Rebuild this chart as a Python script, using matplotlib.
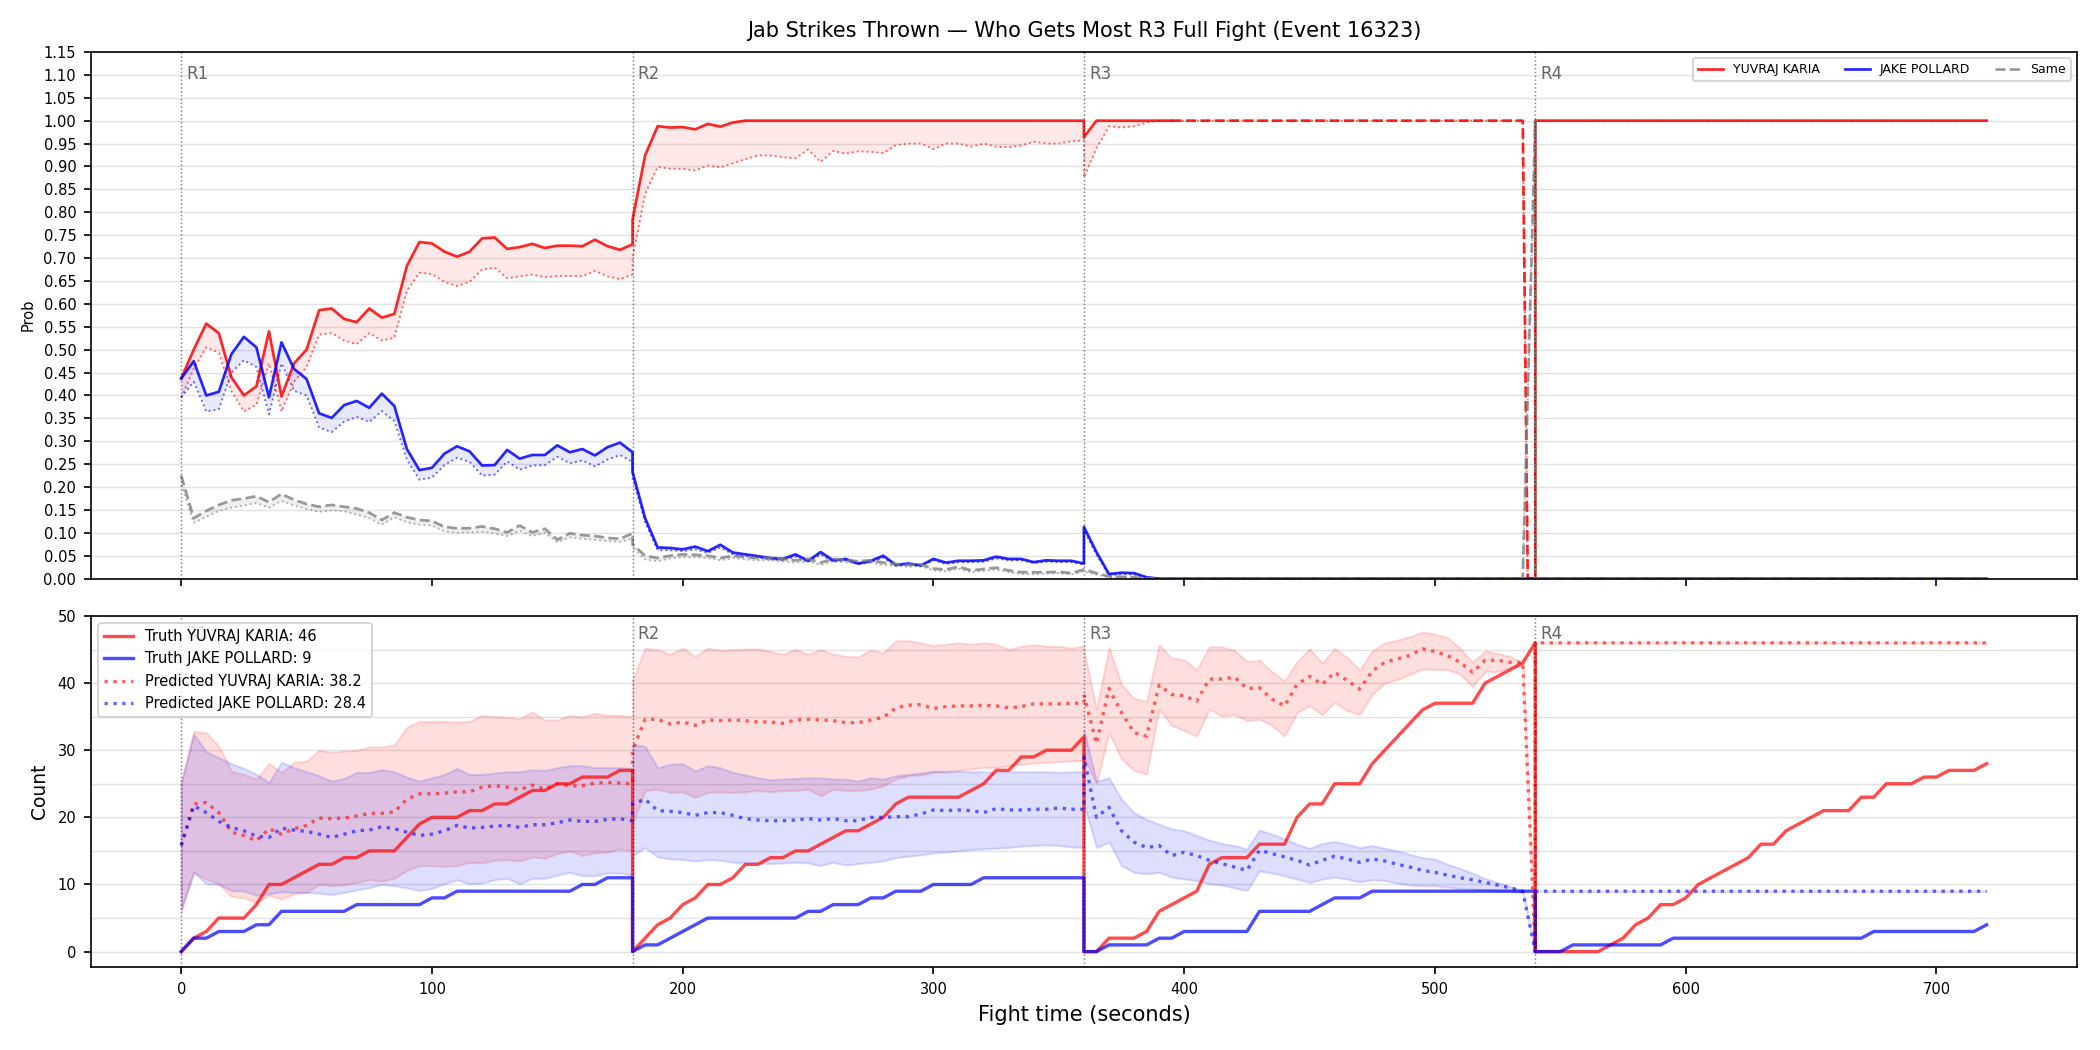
import numpy as np
import matplotlib
matplotlib.use("Agg")
import matplotlib.pyplot as plt
import matplotlib.transforms as mtransforms
from matplotlib.ticker import MultipleLocator

# nomi e testi
red_name = "YUVRAJ KARIA"
blue_name = "JAKE POLLARD"
titolo = "Jab Strikes Thrown — Who Gets Most R3 Full Fight (Event 16323)"
round_starts = [0, 180, 360, 540]
round_labels = ["R1", "R2", "R3", "R4"]

# griglie temporali (secondi) per ogni round
t_r1 = np.arange(0, 181, 5)
t_r2 = np.arange(180, 361, 5)
t_r3_prob = np.concatenate([np.arange(360, 536, 5), [537, 540]])
t_r3_cnt = np.concatenate([np.arange(360, 536, 5), [540]])
t_r4 = np.arange(540, 721, 5)

# ---- pannello alto: probabilita ----
red_p_r1 = [0.437, 0.50, 0.557, 0.536, 0.44, 0.40, 0.42, 0.54, 0.398, 0.47, 0.50, 0.586, 0.59, 0.567, 0.56, 0.59,
            0.57, 0.578, 0.683, 0.735, 0.732, 0.714, 0.703, 0.714, 0.743, 0.745, 0.72, 0.724, 0.731, 0.722, 0.727,
            0.727, 0.726, 0.74, 0.726, 0.718, 0.73]
red_lo_r1 = [0.396, 0.458, 0.505, 0.493, 0.41, 0.365, 0.38, 0.47, 0.365, 0.43, 0.462, 0.533, 0.536, 0.52, 0.512,
             0.536, 0.52, 0.526, 0.629, 0.668, 0.665, 0.648, 0.639, 0.648, 0.675, 0.679, 0.656, 0.66, 0.664, 0.658,
             0.661, 0.661, 0.66, 0.672, 0.66, 0.654, 0.664]
blue_p_r1 = [0.437, 0.475, 0.40, 0.408, 0.49, 0.528, 0.505, 0.396, 0.516, 0.458, 0.436, 0.361, 0.351, 0.379, 0.388,
             0.373, 0.404, 0.377, 0.283, 0.237, 0.242, 0.273, 0.289, 0.278, 0.247, 0.248, 0.281, 0.262, 0.27, 0.27,
             0.291, 0.276, 0.283, 0.269, 0.287, 0.297, 0.276]
blue_lo_r1 = [0.396, 0.43, 0.365, 0.37, 0.45, 0.477, 0.462, 0.359, 0.47, 0.41, 0.40, 0.33, 0.32, 0.343, 0.353,
              0.342, 0.366, 0.344, 0.26, 0.216, 0.221, 0.248, 0.264, 0.255, 0.225, 0.227, 0.256, 0.238, 0.247, 0.248,
              0.266, 0.252, 0.258, 0.245, 0.26, 0.27, 0.255]
same_p_r1 = [0.225, 0.132, 0.148, 0.161, 0.171, 0.175, 0.18, 0.167, 0.185, 0.172, 0.163, 0.157, 0.161, 0.157, 0.153,
             0.144, 0.128, 0.144, 0.134, 0.128, 0.126, 0.113, 0.11, 0.11, 0.114, 0.109, 0.101, 0.116, 0.101, 0.109,
             0.085, 0.099, 0.095, 0.093, 0.089, 0.087, 0.099]
same_lo_r1 = [0.205, 0.122, 0.135, 0.148, 0.155, 0.16, 0.165, 0.155, 0.17, 0.16, 0.152, 0.146, 0.149, 0.147, 0.14,
              0.132, 0.118, 0.134, 0.123, 0.118, 0.116, 0.103, 0.1, 0.101, 0.102, 0.099, 0.093, 0.104, 0.093, 0.1,
              0.08, 0.09, 0.087, 0.085, 0.082, 0.08, 0.088]

red_p_r2 = [0.784, 0.924, 0.988, 0.985, 0.986, 0.981, 0.993, 0.987, 0.996, 1.0, 1.0, 1.0, 1.0, 1.0, 1.0, 1.0, 1.0,
            1.0, 1.0, 1.0, 1.0, 1.0, 1.0, 1.0, 1.0, 1.0, 1.0, 1.0, 1.0, 1.0, 1.0, 1.0, 1.0, 1.0, 1.0, 1.0, 1.0]
red_lo_r2 = [0.70, 0.84, 0.899, 0.895, 0.895, 0.891, 0.902, 0.898, 0.907, 0.916, 0.924, 0.924, 0.92, 0.918, 0.937,
             0.91, 0.934, 0.928, 0.933, 0.932, 0.929, 0.947, 0.95, 0.95, 0.938, 0.95, 0.95, 0.943, 0.95, 0.943,
             0.942, 0.946, 0.954, 0.95, 0.95, 0.955, 0.957]
blue_p_r2 = [0.233, 0.132, 0.068, 0.067, 0.064, 0.07, 0.06, 0.074, 0.057, 0.053, 0.049, 0.045, 0.043, 0.053, 0.039,
             0.058, 0.04, 0.043, 0.033, 0.039, 0.05, 0.03, 0.033, 0.029, 0.043, 0.035, 0.039, 0.039, 0.04, 0.048,
             0.043, 0.043, 0.036, 0.04, 0.039, 0.039, 0.033]
blue_lo_r2 = [0.22, 0.124, 0.062, 0.062, 0.06, 0.064, 0.056, 0.068, 0.053, 0.049, 0.046, 0.042, 0.04, 0.048, 0.036,
              0.053, 0.037, 0.04, 0.031, 0.036, 0.046, 0.028, 0.031, 0.027, 0.04, 0.032, 0.036, 0.036, 0.037, 0.044,
              0.04, 0.04, 0.034, 0.037, 0.036, 0.036, 0.031]
same_p_r2 = [0.075, 0.05, 0.045, 0.05, 0.053, 0.052, 0.05, 0.045, 0.05, 0.047, 0.045, 0.045, 0.043, 0.04, 0.043,
             0.035, 0.043, 0.041, 0.038, 0.04, 0.035, 0.032, 0.03, 0.031, 0.022, 0.02, 0.026, 0.018, 0.021, 0.024,
             0.018, 0.014, 0.014, 0.014, 0.015, 0.012, 0.02]
same_lo_r2 = [0.068, 0.042, 0.038, 0.044, 0.047, 0.047, 0.045, 0.04, 0.045, 0.042, 0.04, 0.04, 0.038, 0.035, 0.038,
              0.03, 0.038, 0.036, 0.033, 0.035, 0.03, 0.028, 0.026, 0.027, 0.018, 0.016, 0.022, 0.014, 0.017, 0.02,
              0.014, 0.01, 0.01, 0.011, 0.012, 0.009, 0.016]

red_p_r3 = [0.964, 1.0, 1.0, 1.0, 1.0, 1.0, 1.0, 1.0, 1.0, 1.0, 1.0, 1.0, 1.0, 1.0, 1.0, 1.0, 1.0, 1.0, 1.0, 1.0,
            1.0, 1.0, 1.0, 1.0, 1.0, 1.0, 1.0, 1.0, 1.0, 1.0, 1.0, 1.0, 1.0, 1.0, 1.0, 1.0, 0.0, 0.0]
red_lo_r3 = [0.876, 0.94, 0.988, 0.985, 0.988, 0.996, 1.0, 1.0, 1.0, 1.0, 1.0, 1.0, 1.0, 1.0, 1.0, 1.0, 1.0, 1.0,
             1.0, 1.0, 1.0, 1.0, 1.0, 1.0, 1.0, 1.0, 1.0, 1.0, 1.0, 1.0, 1.0, 1.0, 1.0, 1.0, 1.0, 1.0, 0.0, 0.0]
blue_p_r3 = [0.113, 0.058, 0.01, 0.013, 0.012, 0.003, 0.0, 0.0, 0.0, 0.0, 0.0, 0.0, 0.0, 0.0, 0.0, 0.0, 0.0, 0.0,
             0.0, 0.0, 0.0, 0.0, 0.0, 0.0, 0.0, 0.0, 0.0, 0.0, 0.0, 0.0, 0.0, 0.0, 0.0, 0.0, 0.0, 0.0, 0.0, 0.0]
blue_lo_r3 = [0.105, 0.052, 0.007, 0.01, 0.009, 0.002, 0.0, 0.0, 0.0, 0.0, 0.0, 0.0, 0.0, 0.0, 0.0, 0.0, 0.0, 0.0,
              0.0, 0.0, 0.0, 0.0, 0.0, 0.0, 0.0, 0.0, 0.0, 0.0, 0.0, 0.0, 0.0, 0.0, 0.0, 0.0, 0.0, 0.0, 0.0, 0.0]
same_p_r3 = [0.02, 0.012, 0.005, 0.004, 0.003, 0.001, 0.0, 0.0, 0.0, 0.0, 0.0, 0.0, 0.0, 0.0, 0.0, 0.0, 0.0, 0.0,
             0.0, 0.0, 0.0, 0.0, 0.0, 0.0, 0.0, 0.0, 0.0, 0.0, 0.0, 0.0, 0.0, 0.0, 0.0, 0.0, 0.0, 0.0, 0.4, 1.0]
same_lo_r3 = [0.015, 0.009, 0.003, 0.003, 0.002, 0.0, 0.0, 0.0, 0.0, 0.0, 0.0, 0.0, 0.0, 0.0, 0.0, 0.0, 0.0, 0.0,
              0.0, 0.0, 0.0, 0.0, 0.0, 0.0, 0.0, 0.0, 0.0, 0.0, 0.0, 0.0, 0.0, 0.0, 0.0, 0.0, 0.0, 0.0, 0.4, 1.0]

red_p_r4 = [1.0, 1.0, 1.0, 1.0, 1.0, 1.0, 1.0, 1.0, 1.0, 1.0, 1.0, 1.0, 1.0, 1.0, 1.0, 1.0, 1.0, 1.0, 1.0, 1.0,
            1.0, 1.0, 1.0, 1.0, 1.0, 1.0, 1.0, 1.0, 1.0, 1.0, 1.0, 1.0, 1.0, 1.0, 1.0, 1.0, 1.0]
blue_p_r4 = [0.0, 0.0, 0.0, 0.0, 0.0, 0.0, 0.0, 0.0, 0.0, 0.0, 0.0, 0.0, 0.0, 0.0, 0.0, 0.0, 0.0, 0.0, 0.0, 0.0,
             0.0, 0.0, 0.0, 0.0, 0.0, 0.0, 0.0, 0.0, 0.0, 0.0, 0.0, 0.0, 0.0, 0.0, 0.0, 0.0, 0.0]
same_p_r4 = blue_p_r4

# ---- pannello basso: conteggi ----
red_truth_r1 = [0, 2, 3, 5, 5, 5, 7, 10, 10, 11, 12, 13, 13, 14, 14, 15, 15, 15, 17, 19, 20, 20, 20, 21, 21, 22, 22,
                23, 24, 24, 25, 25, 26, 26, 26, 27, 27]
blue_truth_r1 = [0, 2, 2, 3, 3, 3, 4, 4, 6, 6, 6, 6, 6, 6, 7, 7, 7, 7, 7, 7, 8, 8, 9, 9, 9, 9, 9, 9, 9, 9, 9, 9, 10,
                 10, 11, 11, 11]
red_pred_r1 = [15.8, 22.0, 22.2, 20.7, 17.8, 17.3, 16.5, 18.3, 17.5, 18.3, 18.8, 19.9, 19.8, 19.9, 20.2, 20.6, 20.6,
               20.8, 22.7, 23.5, 23.5, 23.6, 23.8, 23.8, 24.5, 24.7, 24.5, 24.1, 24.8, 24.2, 25.0, 24.7, 24.7, 25.1,
               25.2, 25.1, 25.0]
red_hi_r1 = [25.4, 32.8, 32.6, 30.6, 26.9, 26.4, 25.7, 28.0, 26.7, 28.2, 28.4, 30.0, 29.7, 29.9, 30.0, 30.5, 30.5,
             30.8, 33.4, 34.3, 34.3, 34.3, 34.2, 34.3, 35.2, 35.0, 34.9, 34.7, 35.7, 34.5, 34.5, 35.2, 35.0, 35.5,
             35.2, 35.2, 35.0]
red_low_r1 = [6.4, 11.8, 10.8, 10.1, 8.2, 8.0, 7.3, 8.4, 7.8, 8.6, 8.8, 10.0, 9.8, 9.95, 10.3, 10.7, 10.5, 10.9,
              12.1, 12.8, 12.8, 12.7, 12.8, 13.3, 13.2, 13.6, 13.7, 13.5, 14.1, 13.9, 14.6, 15.0, 14.3, 14.7, 14.8,
              15.3, 15.0]
blue_pred_r1 = [15.8, 21.7, 20.7, 19.4, 18.5, 18.0, 17.2, 17.0, 18.4, 18.1, 17.9, 17.5, 17.0, 17.5, 18.0, 18.1,
                18.6, 18.3, 17.8, 17.3, 17.5, 18.0, 18.8, 18.4, 18.5, 18.7, 18.8, 18.5, 18.9, 18.9, 19.2, 19.6,
                19.4, 19.4, 19.7, 19.8, 19.5]
blue_hi_r1 = [25.0, 32.4, 29.8, 28.9, 28.0, 27.3, 26.4, 25.2, 28.2, 27.4, 26.8, 26.2, 25.4, 25.8, 26.7, 26.7, 27.1,
              26.8, 26.0, 25.4, 25.9, 26.4, 27.3, 26.4, 26.4, 26.6, 26.8, 26.8, 27.1, 27.0, 27.4, 27.7, 27.7, 27.4,
              27.4, 27.4, 27.3]
blue_low_r1 = [6.0, 11.8, 10.1, 10.0, 9.1, 9.0, 8.4, 8.6, 8.9, 8.8, 8.8, 8.7, 8.5, 8.8, 9.2, 9.5, 10.0, 9.8, 9.5,
               9.1, 9.4, 10.1, 10.7, 10.1, 10.2, 10.7, 10.9, 10.1, 10.9, 10.9, 11.4, 11.8, 11.3, 11.3, 11.7, 11.7,
               11.4]

red_truth_r2 = [0, 2, 4, 5, 7, 8, 10, 10, 11, 13, 13, 14, 14, 15, 15, 16, 17, 18, 18, 19, 20, 22, 23, 23, 23, 23,
                23, 24, 25, 27, 27, 29, 29, 30, 30, 30, 32]
blue_truth_r2 = [0, 1, 1, 2, 3, 4, 5, 5, 5, 5, 5, 5, 5, 5, 6, 6, 7, 7, 7, 8, 8, 9, 9, 9, 10, 10, 10, 10, 11, 11, 11,
                 11, 11, 11, 11, 11, 11]
red_pred_r2 = [30.0, 34.6, 34.6, 33.9, 34.2, 33.7, 34.5, 34.4, 34.5, 34.4, 34.2, 34.2, 34.0, 34.5, 34.6, 34.5, 34.4,
               34.1, 34.1, 34.5, 34.9, 36.3, 36.7, 36.8, 36.2, 36.5, 36.6, 36.6, 36.7, 36.6, 36.3, 36.5, 36.9, 36.9,
               36.9, 37.0, 37.0]
red_hi_r2 = [40.5, 45.2, 45.0, 44.3, 45.2, 44.0, 45.2, 44.9, 45.0, 45.1, 45.1, 44.7, 44.3, 45.0, 44.3, 45.0, 44.3,
             44.0, 43.9, 44.9, 44.5, 46.3, 46.3, 46.0, 45.6, 45.8, 46.0, 45.8, 46.0, 45.8, 45.0, 45.5, 45.7, 45.5,
             45.5, 45.2, 45.6]
red_low_r2 = [19.0, 24.0, 24.2, 23.7, 23.8, 23.0, 23.7, 23.8, 23.7, 23.8, 24.0, 23.8, 24.0, 24.0, 24.2, 23.2, 24.2,
              24.0, 24.0, 24.2, 24.7, 25.7, 26.2, 26.3, 26.7, 26.8, 27.0, 27.2, 27.4, 27.4, 27.7, 27.9, 28.1, 28.2,
              28.3, 28.4, 28.5]
blue_pred_r2 = [22.0, 22.7, 21.0, 20.9, 20.7, 20.3, 20.7, 20.7, 20.3, 19.8, 19.6, 19.5, 19.5, 19.6, 19.8, 19.6,
                19.8, 19.5, 19.5, 20.0, 20.0, 20.1, 20.1, 20.5, 21.1, 21.0, 21.1, 21.0, 20.7, 21.3, 21.1, 21.1, 21.2,
                21.2, 21.4, 21.2, 21.2]
blue_hi_r2 = [30.8, 30.6, 27.4, 27.9, 28.0, 26.9, 27.7, 27.4, 26.7, 26.3, 25.9, 25.6, 25.7, 25.8, 25.9, 25.9, 25.7,
              25.7, 25.4, 25.9, 25.7, 26.2, 26.4, 26.6, 26.9, 26.8, 26.9, 26.8, 26.8, 26.7, 26.8, 26.8, 26.8, 26.8,
              26.7, 26.8, 26.8]
blue_low_r2 = [14.3, 15.5, 14.1, 13.8, 13.7, 13.5, 13.7, 13.6, 13.3, 13.2, 13.2, 13.1, 13.2, 13.3, 13.2, 12.8, 13.3,
               12.9, 13.1, 13.3, 13.5, 14.0, 14.2, 14.4, 14.7, 14.8, 15.0, 15.2, 15.3, 15.4, 15.5, 15.7, 15.8, 15.9,
               15.8, 15.6, 15.5]

red_truth_r3 = [0, 0, 2, 2, 2, 3, 6, 7, 8, 9, 13, 14, 14, 14, 16, 16, 16, 20, 22, 22, 25, 25, 25, 28, 30, 32, 34,
                36, 37, 37, 37, 37, 40, 41, 42, 43, 46]
blue_truth_r3 = [0, 0, 1, 1, 1, 1, 2, 2, 3, 3, 3, 3, 3, 3, 6, 6, 6, 6, 6, 7, 8, 8, 8, 9, 9, 9, 9, 9, 9, 9, 9, 9, 9,
                 9, 9, 9, 9]
red_pred_r3 = [38.3, 31.0, 39.2, 35.6, 32.6, 32.1, 39.7, 38.3, 38.1, 37.3, 40.6, 40.6, 40.9, 39.2, 39.3, 37.6, 36.6,
               39.8, 41.0, 39.8, 41.6, 40.4, 39.1, 41.8, 43.1, 43.6, 44.1, 45.1, 44.7, 44.1, 43.1, 41.6, 43.4, 43.4,
               43.1, 43.1, 0.0]
red_hi_r3 = [45.0, 36.1, 45.3, 39.8, 37.7, 37.3, 45.7, 43.7, 43.5, 42.0, 45.4, 45.4, 44.9, 43.2, 43.4, 41.7, 40.3,
             43.2, 45.1, 43.0, 45.2, 43.8, 42.0, 44.8, 46.0, 46.4, 46.9, 47.6, 47.3, 46.8, 45.2, 43.1, 44.8, 44.4,
             44.0, 42.9, 0.0]
red_low_r3 = [29.0, 25.0, 32.6, 28.7, 27.0, 26.4, 36.1, 33.7, 32.9, 32.1, 36.1, 35.1, 35.3, 34.4, 34.6, 33.7, 32.1,
              35.6, 36.6, 35.3, 37.1, 35.9, 35.3, 38.3, 40.0, 40.5, 41.3, 42.1, 42.0, 42.0, 41.3, 39.5, 41.7, 41.7,
              42.3, 42.7, 0.0]
blue_pred_r3 = [29.0, 20.0, 21.5, 18.0, 16.3, 15.5, 15.8, 14.3, 14.8, 14.3, 13.6, 13.1, 12.6, 12.1, 15.1, 14.6, 14.1,
                13.6, 12.9, 13.6, 14.2, 13.8, 13.3, 13.8, 13.5, 13.0, 12.6, 12.1, 11.8, 11.4, 11.0, 10.7, 10.3, 9.9,
                9.5, 9.0, 0.0]
blue_hi_r3 = [33.0, 25.4, 25.9, 22.7, 20.7, 19.7, 19.0, 18.3, 18.0, 17.3, 16.6, 16.1, 15.8, 15.3, 18.1, 17.5, 16.8,
              16.0, 15.4, 16.1, 16.4, 16.0, 15.5, 15.8, 15.4, 15.0, 14.5, 14.0, 13.8, 13.0, 12.4, 11.7, 10.9, 10.3,
              9.7, 9.1, 0.0]
blue_low_r3 = [22.0, 15.5, 16.3, 12.8, 11.8, 11.6, 11.8, 11.1, 10.8, 10.6, 10.1, 9.9, 9.5, 9.1, 12.0, 11.7, 11.3,
               10.8, 10.3, 10.8, 11.1, 10.8, 10.4, 10.7, 10.6, 10.2, 9.9, 9.8, 9.8, 9.6, 9.4, 9.3, 9.2, 9.1, 9.0, 8.8,
               0.0]

red_truth_r4 = [0, 0, 0, 0, 0, 0, 1, 2, 4, 5, 7, 7, 8, 10, 11, 12, 13, 14, 16, 16, 18, 19, 20, 21, 21, 21, 23, 23,
                25, 25, 25, 26, 26, 27, 27, 27, 28]
blue_truth_r4 = [0, 0, 0, 1, 1, 1, 1, 1, 1, 1, 1, 2, 2, 2, 2, 2, 2, 2, 2, 2, 2, 2, 2, 2, 2, 2, 2, 3, 3, 3, 3, 3, 3,
                 3, 3, 3, 4]
red_pred_r4 = [46, 46, 46, 46, 46, 46, 46, 46, 46, 46, 46, 46, 46, 46, 46, 46, 46, 46, 46, 46, 46, 46, 46, 46, 46,
               46, 46, 46, 46, 46, 46, 46, 46, 46, 46, 46, 46]
blue_pred_r4 = [9, 9, 9, 9, 9, 9, 9, 9, 9, 9, 9, 9, 9, 9, 9, 9, 9, 9, 9, 9, 9, 9, 9, 9, 9, 9, 9, 9, 9, 9, 9, 9, 9, 9,
                9, 9, 9]


def unisci(*parti):
    return np.concatenate([np.asarray(p, dtype=float) for p in parti])


# serie complete
t_prob = unisci(t_r1, t_r2, t_r3_prob, t_r4)
seg_prob = unisci([1] * len(t_r1), [2] * len(t_r2), [3] * len(t_r3_prob), [4] * len(t_r4))
red_p = unisci(red_p_r1, red_p_r2, red_p_r3, red_p_r4)
red_lo = unisci(red_lo_r1, red_lo_r2, red_lo_r3, red_p_r4)
blue_p = unisci(blue_p_r1, blue_p_r2, blue_p_r3, blue_p_r4)
blue_lo = unisci(blue_lo_r1, blue_lo_r2, blue_lo_r3, blue_p_r4)
same_p = unisci(same_p_r1, same_p_r2, same_p_r3, same_p_r4)
same_lo = unisci(same_lo_r1, same_lo_r2, same_lo_r3, same_p_r4)

t_cnt = unisci(t_r1, t_r2, t_r3_cnt, t_r4)
red_truth = unisci(red_truth_r1, red_truth_r2, red_truth_r3, red_truth_r4)
blue_truth = unisci(blue_truth_r1, blue_truth_r2, blue_truth_r3, blue_truth_r4)
red_pred = unisci(red_pred_r1, red_pred_r2, red_pred_r3, red_pred_r4)
blue_pred = unisci(blue_pred_r1, blue_pred_r2, blue_pred_r3, blue_pred_r4)
red_hi = unisci(red_hi_r1, red_hi_r2, red_hi_r3, red_pred_r4)
red_low = unisci(red_low_r1, red_low_r2, red_low_r3, red_pred_r4)
blue_hi = unisci(blue_hi_r1, blue_hi_r2, blue_hi_r3, blue_pred_r4)
blue_low = unisci(blue_low_r1, blue_low_r2, blue_low_r3, blue_pred_r4)

# tratto tratteggiato del rosso nel round 3 (esito ormai deciso)
maschera_tratt = (seg_prob == 3) & (t_prob >= 395)
red_solido = red_p.copy()
red_solido[(seg_prob == 3) & (t_prob > 395) & (t_prob < 540)] = np.nan

# figura
fig = plt.figure(figsize=(14, 7), dpi=150)
gs = fig.add_gridspec(2, 1, height_ratios=[3, 2], hspace=0.085,
                      left=0.0433, right=0.989, top=0.9505, bottom=0.079)
ax1 = fig.add_subplot(gs[0])
ax2 = fig.add_subplot(gs[1], sharex=ax1)

# pannello alto
ax1.fill_between(t_prob, red_lo, red_p, color="red", alpha=0.09, linewidth=0)
ax1.fill_between(t_prob, blue_lo, blue_p, color="blue", alpha=0.09, linewidth=0)
ax1.fill_between(t_prob, same_lo, same_p, color="gray", alpha=0.12, linewidth=0)
ax1.plot(t_prob, red_lo, color="red", linestyle=":", linewidth=0.9, alpha=0.6)
ax1.plot(t_prob, blue_lo, color="blue", linestyle=":", linewidth=0.9, alpha=0.6)
ax1.plot(t_prob, same_lo, color="gray", linestyle=":", linewidth=0.9, alpha=0.6)
ax1.plot(t_prob, red_solido, color="red", linewidth=1.3, alpha=0.85, label=red_name)
ax1.plot(t_prob[maschera_tratt], red_p[maschera_tratt], color="red", linestyle="--", linewidth=1.3, alpha=0.85)
ax1.plot(t_prob, blue_p, color="blue", linewidth=1.3, alpha=0.85, label=blue_name)
ax1.plot(t_prob, same_p, color="gray", linestyle="--", linewidth=1.3, alpha=0.8, label="Same")

ax1.set_ylim(0, 1.15)
ax1.yaxis.set_major_locator(MultipleLocator(0.05))
ax1.yaxis.set_major_formatter(plt.FormatStrFormatter("%.2f"))
ax1.set_ylabel("Prob", fontsize=7)
ax1.set_title(titolo, fontsize=10, pad=7)
ax1.grid(axis="y", color="#e3e3e3", linewidth=0.7)
ax1.set_axisbelow(True)
ax1.tick_params(labelbottom=False, labelsize=7)
ax1.legend(loc="upper right", ncol=3, fontsize=6)

# pannello basso
ax2.fill_between(t_cnt, red_low, red_hi, color="red", alpha=0.13)
ax2.fill_between(t_cnt, blue_low, blue_hi, color="blue", alpha=0.13)
ax2.plot(t_cnt, red_truth, color="red", linewidth=1.6, alpha=0.7, label=f"Truth {red_name}: 46")
ax2.plot(t_cnt, blue_truth, color="blue", linewidth=1.6, alpha=0.7, label=f"Truth {blue_name}: 9")
ax2.plot(t_cnt, red_pred, color="red", linestyle=":", linewidth=1.6, alpha=0.6,
         label=f"Predicted {red_name}: 38.2")
ax2.plot(t_cnt, blue_pred, color="blue", linestyle=":", linewidth=1.6, alpha=0.6,
         label=f"Predicted {blue_name}: 28.4")

ax2.set_ylim(-2.3, 50)
ax2.yaxis.set_major_locator(MultipleLocator(10))
ax2.yaxis.set_minor_locator(MultipleLocator(5))
ax2.grid(axis="y", which="both", color="#e3e3e3", linewidth=0.7)
ax2.set_axisbelow(True)
ax2.tick_params(labelsize=7)
ax2.tick_params(which="minor", length=0)
ax2.set_ylabel("Count", fontsize=9)
ax2.set_xlabel("Fight time (seconds)", fontsize=10)
leg2 = ax2.legend(loc="upper left", fontsize=7)
leg2.set_zorder(10)

# linee e etichette dei round
for ax in (ax1, ax2):
    trans = mtransforms.blended_transform_factory(ax.transData, ax.transAxes)
    for x0, lab in zip(round_starts, round_labels):
        ax.axvline(x0, color="black", linestyle=":", linewidth=0.7, alpha=0.5, zorder=5)
        ax.text(x0 + 2, 0.975, lab, transform=trans, fontsize=8, color="#666666", va="top", ha="left")

plt.savefig("out.png", dpi=150)
